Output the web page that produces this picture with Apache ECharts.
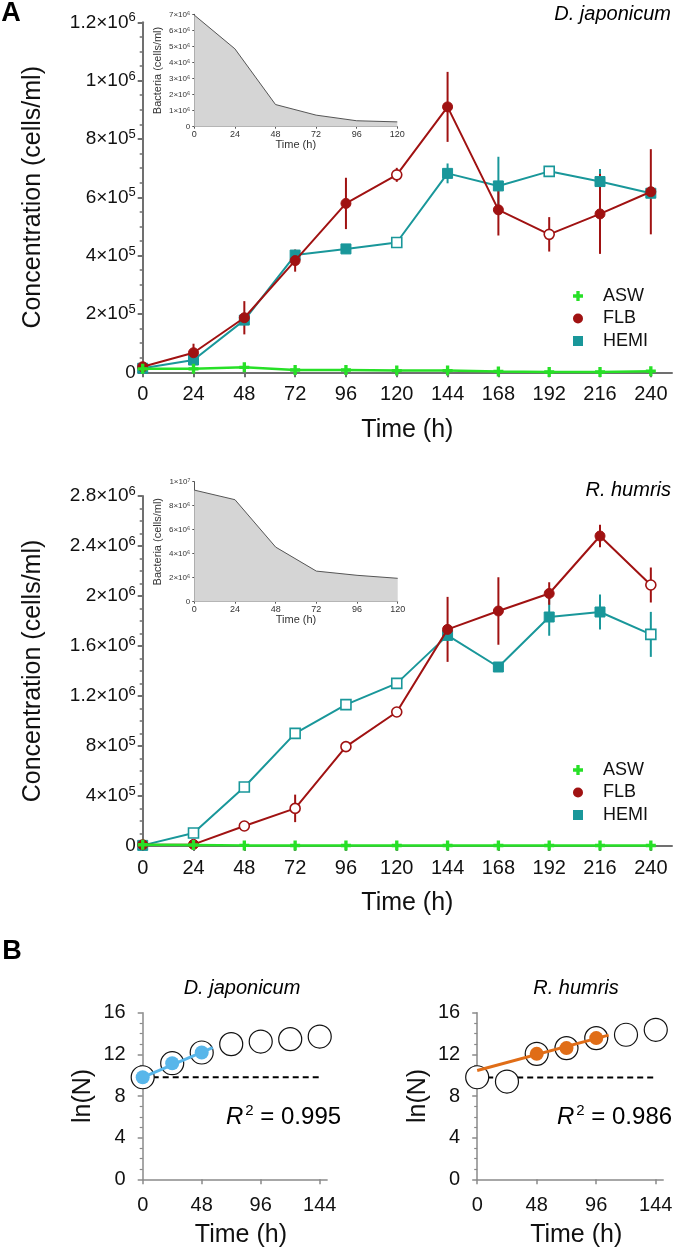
<!DOCTYPE html>
<html><head><meta charset="utf-8">
<script src="https://cdn.jsdelivr.net/npm/echarts@6/dist/echarts.min.js"></script>
<style>html,body{margin:0;padding:0;background:#fff}#c{width:674px;height:1247px}</style>
</head><body><div id="c"></div>
<script>
// ---------------- data ----------------
const timeH = [0,24,48,72,96,120,144,168,192,216,240];
const xTickValues = [0,24,48,72,96,120,144,168,192,216,240];
const yTicksDJ = [0,2e5,4e5,6e5,8e5,1e6,1.2e6];
const yTicksRH = [0,4e5,8e5,1.2e6,1.6e6,2e6,2.4e6,2.8e6];

// A, D. japonicum
const djASW  = [1.2e4,1.2e4,1.7e4,8e3,8e3,6e3,6e3,3e3,1e3,1e3,4e3];
const djFLB  = [1.9e4,6.7e4,1.87e5,3.83e5,5.79e5,6.77e5,9.1e5,5.57e5,4.73e5,5.43e5,6.19e5];
const djFLBerr = [4e3,3.1e4,5.7e4,3.8e4,8.8e4,2.4e4,1.2e5,8.8e4,5.9e4,1.37e5,1.46e5];
const djHEMI = [1.4e4,4.2e4,1.79e5,4.02e5,4.23e5,4.45e5,6.82e5,6.39e5,6.89e5,6.54e5,6.14e5];
const djHEMIerr = [3e3,1.5e4,1.5e4,1.5e4,1.5e4,8e3,3.4e4,1e5,1e4,4.3e4,1e4];
const djFLBhollow = [120,192];
const djHEMIhollow = [120,192];

// A, R. humris
const rhASW  = [1e4,8e3,5e3,4e3,4e3,4e3,4e3,4e3,4e3,4e3,4e3];
const rhFLB  = [1e4,1.3e4,1.6e5,3.01e5,7.95e5,1.072e6,1.733e6,1.88e6,2.02e6,2.48e6,2.088e6];
const rhFLBerr = [5e3,5e3,1e4,1.1e5,2.5e4,1e4,2.6e5,2.7e5,9e4,9e4,1.4e5];
const rhHEMI = [5e3,1.04e5,4.72e5,9.01e5,1.131e6,1.301e6,1.685e6,1.432e6,1.832e6,1.872e6,1.693e6];
const rhHEMIerr = [5e3,1e4,1e4,1e4,1e4,1e4,1e4,1.5e4,1.5e5,1.4e5,1.8e5];
const rhFLBhollow = [48,72,96,120,240];
const rhHEMIhollow = [24,48,72,96,120,240];

// insets (bacteria)
const insetT = [0,24,48,72,96,120];
const insetTicks = [0,24,48,72,96,120];
const djBact = [6.95e6,4.85e6,1.38e6,0.72e6,0.37e6,0.30e6];
const rhBact = [9.3e6,8.5e6,4.55e6,2.55e6,2.2e6,1.95e6];
const djBactTicks = [0,1e6,2e6,3e6,4e6,5e6,6e6,7e6];
const rhBactTicks = [0,2e6,4e6,6e6,8e6,1e7];

// B, ln(N)
const bT = [0,24,48,72,96,120,144];
const bTicks = [0,48,96,144];
const djLnN = [9.8,11.15,12.18,12.98,13.23,13.46,13.71];
const djFitIdx = [0,1,2];
const djFitLine = [[0,9.8],[57,12.65]];
const djLag = [[0,9.8],[144,9.8]];
const rhLnN = [9.8,9.39,12.05,12.6,13.56,13.88,14.36];
const rhFitIdx = [2,3,4];
const rhFitLine = [[0,10.45],[106,13.85]];
const rhLag = [[0,9.77],[144,9.77]];
const r2Labels = ['0.995','0.986'];

// ---------------- styles ----------------
const FONT = '"Liberation Sans", Arial, Helvetica, sans-serif';
const RED = '#a01212', TEAL = '#19979a', GREEN = '#27e027';
const BLUE = '#58b6ea', ORANGE = '#e06d17';
const AX = '#707070';
const PLUS = 'path://M3,0H6V3H9V6H6V9H3V6H0V3H3Z';
const SQUARE = 'path://M0,0H10V10H0Z';

const SUP = {'0':'⁰','1':'¹','2':'²','3':'³','4':'⁴','5':'⁵','6':'⁶','7':'⁷','8':'⁸','9':'⁹'};
function parts(v){
  const e = Math.floor(Math.log10(v) + 1e-9);
  const m = +(v / Math.pow(10, e)).toFixed(1);
  return [m, e];
}
function sci(v){
  if (v === 0) return '0';
  const p = parts(v);
  return p[0] + '×10' + String(p[1]).split('').map(c => SUP[c]).join('');
}
function sciRich(v){
  if (v === 0) return '{b|0}';
  const p = parts(v);
  return '{b|' + p[0] + '×10}{s|' + p[1] + '}';
}
const supRich = {
  b:{fontSize:19, fontFamily:FONT, color:'#111', lineHeight:22, verticalAlign:'middle'},
  s:{fontSize:13, fontFamily:FONT, color:'#111', lineHeight:13, verticalAlign:'top'}
};

function lineData(vals, hollow, color){
  return timeH.map((t,i) => ({
    value: [t, vals[i]],
    itemStyle: hollow.indexOf(t) >= 0
      ? {color:'#fff', borderColor: color, borderWidth: 1.6}
      : {color: color, borderColor: color, borderWidth: 1}
  }));
}
function errSeries(vals, errs, color, xi){
  return {
    type:'custom', xAxisIndex: xi, yAxisIndex: xi, z: 1, silent: true, clip: false,
    data: timeH.map((t,i) => [t, vals[i]-errs[i], vals[i]+errs[i]]),
    encode: {x:0, y:[1,2]},
    renderItem: function(params, api){
      const a = api.coord([api.value(0), api.value(1)]);
      const b = api.coord([api.value(0), api.value(2)]);
      return {type:'line', shape:{x1:a[0], y1:a[1], x2:b[0], y2:b[1]},
              style:{stroke: color, lineWidth: 2}};
    }
  };
}
function mainSeries(xi, asw, flb, flbErr, flbHollow, hemi, hemiErr, hemiHollow){
  return [
    errSeries(hemi, hemiErr, TEAL, xi),
    errSeries(flb, flbErr, RED, xi),
    {type:'line', name:'HEMI', xAxisIndex:xi, yAxisIndex:xi, z:3, clip:false,
     symbol:'rect', symbolSize:10, lineStyle:{color:TEAL, width:2},
     itemStyle:{color:TEAL, borderColor:TEAL}, data: lineData(hemi, hemiHollow, TEAL)},
    {type:'line', name:'FLB', xAxisIndex:xi, yAxisIndex:xi, z:4, clip:false,
     symbol:'circle', symbolSize:10, lineStyle:{color:RED, width:2},
     itemStyle:{color:RED, borderColor:RED}, data: lineData(flb, flbHollow, RED)},
    {type:'line', name:'ASW', xAxisIndex:xi, yAxisIndex:xi, z:5, clip:false,
     symbol:PLUS, symbolSize:10, lineStyle:{color:GREEN, width:2.5},
     itemStyle:{color:GREEN}, data: timeH.map((t,i)=>[t, asw[i]])}
  ];
}

function mainX(gi){
  return {type:'value', gridIndex:gi, min:0, max:250, interval:24,
    axisLine:{show:true, onZero:false, lineStyle:{color:AX, width:2}},
    axisTick:{show:true, customValues:xTickValues, length:5, lineStyle:{color:AX, width:2}},
    axisLabel:{customValues:xTickValues, fontSize:20, color:'#111', margin:12, fontFamily:FONT,
      formatter: v => v > 240 ? '' : String(v)},
    splitLine:{show:false},
    name:'Time (h)', nameLocation:'middle', nameGap:45,
    nameTextStyle:{fontSize:25, color:'#111', fontFamily:FONT}};
}
function mainY(gi, max, interval, ticks){
  return {type:'value', gridIndex:gi, min:0, max:max, interval:interval,
    axisLine:{show:true, onZero:false, lineStyle:{color:AX, width:2}},
    axisTick:{show:true, customValues:ticks, length:5, lineStyle:{color:AX, width:2}},
    minorTick:{show:true, splitNumber:4, length:3, lineStyle:{color:AX, width:1.5}},
    axisLabel:{customValues:ticks, margin:7, formatter: sciRich, rich: supRich},
    splitLine:{show:false}, minorSplitLine:{show:false},
    name:'Concentration (cells/ml)', nameLocation:'middle', nameGap:97,
    nameTextStyle:{fontSize:25, color:'#111', fontFamily:FONT}};
}
function insetX(gi, gap){
  return {type:'value', gridIndex:gi, min:0, max:120, interval:24,
    axisLine:{show:true, onZero:false, lineStyle:{color:'#555', width:1}},
    axisTick:{show:true, customValues:insetTicks, length:2, lineStyle:{color:'#555', width:1}},
    axisLabel:{customValues:insetTicks, fontSize:9, color:'#333', margin:3, fontFamily:FONT},
    splitLine:{show:false},
    name:'Time (h)', nameLocation:'middle', nameGap:gap,
    nameTextStyle:{fontSize:11, color:'#333', fontFamily:FONT}};
}
function insetY(gi, max, interval, ticks){
  return {type:'value', gridIndex:gi, min:0, max:max, interval:interval,
    axisLine:{show:true, onZero:false, lineStyle:{color:'#555', width:1}},
    axisTick:{show:true, customValues:ticks, length:2, lineStyle:{color:'#555', width:1}},
    axisLabel:{customValues:ticks, fontSize:8, color:'#333', margin:4, fontFamily:FONT, formatter: sci},
    splitLine:{show:false},
    name:'Bacteria (cells/ml)', nameLocation:'middle', nameGap:31,
    nameTextStyle:{fontSize:11, color:'#333', fontFamily:FONT}};
}
function bX(gi){
  return {type:'value', gridIndex:gi, min:0, max:150, interval:48,
    axisLine:{show:true, onZero:false, lineStyle:{color:'#8a8a8a', width:1.5}},
    axisTick:{show:true, customValues:bTicks, length:5, lineStyle:{color:'#8a8a8a', width:1.5}},
    axisLabel:{customValues:bTicks, fontSize:20, color:'#111', margin:16, fontFamily:FONT,
      formatter: v => v > 144 ? '' : String(v)},
    splitLine:{show:false},
    name:'Time (h)', nameLocation:'middle', nameGap:43,
    nameTextStyle:{fontSize:25, color:'#111', fontFamily:FONT, padding:[0,0,0,12]}};
}
function bY(gi){
  return {type:'value', gridIndex:gi, min:0, max:16, interval:4,
    axisLine:{show:true, onZero:false, lineStyle:{color:'#8a8a8a', width:1.5}},
    axisTick:{show:true, length:5, lineStyle:{color:'#8a8a8a', width:1.5}},
    minorTick:{show:true, splitNumber:4, length:3, lineStyle:{color:'#8a8a8a', width:1.2}},
    axisLabel:{fontSize:20, color:'#111', margin:17, fontFamily:FONT},
    splitLine:{show:false}, minorSplitLine:{show:false},
    name:'ln(N)', nameLocation:'middle', nameGap:47,
    nameTextStyle:{fontSize:25, color:'#111', fontFamily:FONT}};
}
function bSeries(xi, lnN, fitIdx, fitLine, lag, color){
  return [
    {type:'line', xAxisIndex:xi, yAxisIndex:xi, z:2, clip:false, showSymbol:false, symbol:'none',
     lineStyle:{color:'#000', width:2, type:[6,4]}, data: lag},
    {type:'scatter', xAxisIndex:xi, yAxisIndex:xi, z:3, clip:false, symbolSize:23,
     itemStyle:{color:'#fff', borderColor:'#111', borderWidth:1.2, opacity:1},
     data: bT.map((t,i)=>[t, lnN[i]])},
    {type:'line', xAxisIndex:xi, yAxisIndex:xi, z:4, clip:false, showSymbol:false, symbol:'none',
     lineStyle:{color:color, width:3}, data: fitLine},
    {type:'scatter', xAxisIndex:xi, yAxisIndex:xi, z:5, clip:false, symbolSize:14,
     itemStyle:{color:color, opacity:1},
     data: fitIdx.map(i=>[bT[i], lnN[i]])}
  ];
}
function insetSeries(xi, vals){
  return {type:'line', xAxisIndex:xi, yAxisIndex:xi, z:2, showSymbol:false, symbol:'none',
    lineStyle:{color:'#555', width:1}, areaStyle:{color:'#d5d5d5', opacity:1},
    data: insetT.map((t,i)=>[t, vals[i]])};
}
function txt(x, y, text, font, align){
  return {type:'text', x:x, y:y, z:50,
    style:{text:text, font:font, fill:'#000', align:align||'center', textAlign:align||'center',
           verticalAlign:'middle', textVerticalAlign:'middle'}};
}
function r2(x, y, val){
  return {type:'text', x:x, y:y, z:50,
    style:{text:'{i|R}{s|2}{n| = ' + val + '}', fill:'#000', align:'left', textAlign:'left',
      verticalAlign:'middle', textVerticalAlign:'middle',
      rich:{i:{fontStyle:'italic', fontSize:24, fontFamily:FONT, fill:'#000', lineHeight:28, verticalAlign:'middle'},
            s:{fontSize:15, fontFamily:FONT, fill:'#000', lineHeight:15, verticalAlign:'top', padding:[0,0,0,2]},
            n:{fontSize:24, fontFamily:FONT, fill:'#000', lineHeight:28, verticalAlign:'middle'}}}};
}
const legendItems = [{name:'ASW', icon:PLUS}, {name:'FLB', icon:'circle'}, {name:'HEMI', icon:SQUARE}];
function legend(top){
  return {orient:'vertical', left:568, top:top, itemWidth:40, itemHeight:10, itemGap:4.5,
    selectedMode:false, data: legendItems, symbolKeepAspect:true,
    textStyle:{fontSize:18, color:'#111', fontFamily:FONT, lineHeight:18}};
}

const option = {
  animation:false,
  textStyle:{fontFamily:FONT},
  grid:[
    {left:142.7, top:22.3, width:529.3, height:350, outerBoundsMode:'none'},
    {left:194.3, top:14.3, width:203, height:112.4, outerBoundsMode:'none'},
    {left:142.7, top:496, width:529.3, height:350, outerBoundsMode:'none'},
    {left:194.3, top:481.7, width:203.4, height:120, outerBoundsMode:'none'},
    {left:142.7, top:1012.7, width:184.4, height:166.6, outerBoundsMode:'none'},
    {left:477.2, top:1012.7, width:186, height:166.6, outerBoundsMode:'none'}
  ],
  xAxis:[mainX(0), insetX(1, 13), mainX(2), insetX(3, 12), bX(4), bX(5)],
  yAxis:[mainY(0, 1.2e6, 2e5, yTicksDJ), insetY(1, 7e6, 1e6, djBactTicks),
         mainY(2, 2.8e6, 4e5, yTicksRH), insetY(3, 1e7, 2e6, rhBactTicks),
         bY(4), bY(5)],
  legend:[legend(282), legend(756)],
  series:[].concat(
    mainSeries(0, djASW, djFLB, djFLBerr, djFLBhollow, djHEMI, djHEMIerr, djHEMIhollow),
    [insetSeries(1, djBact)],
    mainSeries(2, rhASW, rhFLB, rhFLBerr, rhFLBhollow, rhHEMI, rhHEMIerr, rhHEMIhollow),
    [insetSeries(3, rhBact)],
    bSeries(4, djLnN, djFitIdx, djFitLine, djLag, BLUE),
    bSeries(5, rhLnN, rhFitIdx, rhFitLine, rhLag, ORANGE)
  ),
  graphic:[
    txt(11, 14, 'A', 'bold 27px ' + FONT),
    txt(12, 952, 'B', 'bold 27px ' + FONT),
    txt(671, 14, 'D. japonicum', 'italic 20px ' + FONT, 'right'),
    txt(671, 490, 'R. humris', 'italic 20px ' + FONT, 'right'),
    txt(242, 988, 'D. japonicum', 'italic 20px ' + FONT),
    txt(576, 988, 'R. humris', 'italic 20px ' + FONT),
    r2(226, 1117, r2Labels[0]),
    r2(557, 1117, r2Labels[1])
  ]
};
const chart = echarts.init(document.getElementById('c'), null, {renderer:'canvas'});
chart.setOption(option);
</script>
</body></html>
